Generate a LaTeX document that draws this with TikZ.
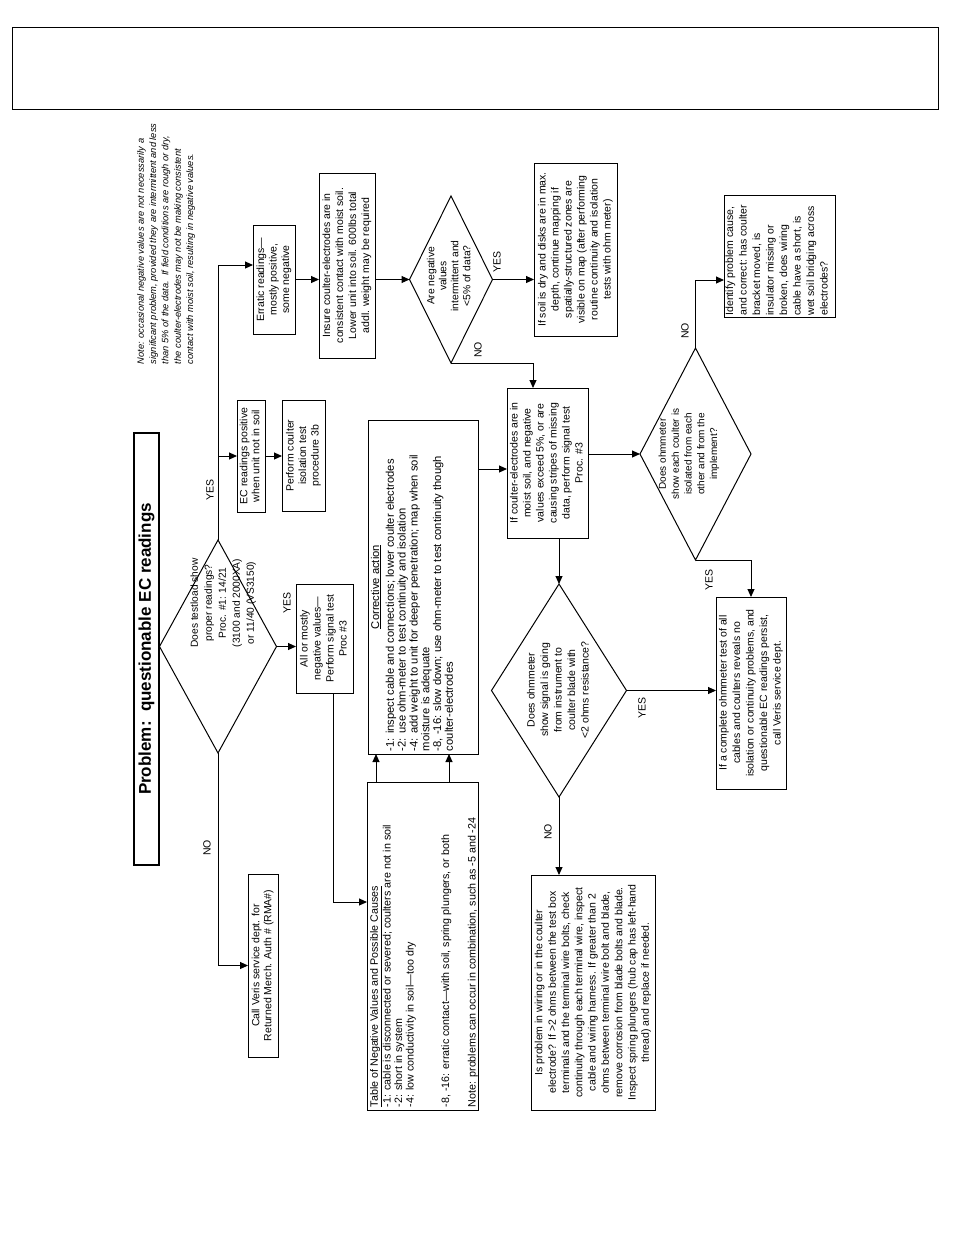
\documentclass[tikz,border=0pt]{standalone}
\usepackage{fontspec}
\setmainfont{Liberation Sans}
\usepackage{graphicx}
\usetikzlibrary{shapes.geometric,arrows.meta}
\newcommand{\vc}[1]{\rotatebox{90}{\begin{tabular}{@{}c@{}}#1\end{tabular}}}
\newcommand{\vl}[3]{\rotatebox{90}{\parbox[c][#2][t]{#1}{\raggedright #3}}}
\tikzset{
  box/.style={draw, line width=1pt, inner sep=0pt, outer sep=0pt},
  dia/.style={draw, diamond, line width=1pt, inner sep=0pt, outer sep=0pt},
  txt/.style={inner sep=0pt, outer sep=0pt},
  lbl/.style={rotate=90, inner sep=0pt, font=\fontsize{10.5}{12}\selectfont},
  arr/.style={line width=1pt, -{Triangle[length=8pt,width=7pt]}},
}
\begin{document}
\begin{tikzpicture}[x=1pt, y=-1pt, font=\fontsize{10.5}{13.3}\selectfont]
\useasboundingbox (0,0) rectangle (954,1235);
\fill[white] (0,0) rectangle (954,1235);

% frame and title
\node[box, minimum width=926pt, minimum height=82pt] (frame) at (475,68) {};
\node[box, line width=2.6pt, minimum width=25pt, minimum height=432pt] (title) at (146.5,649)
  {\rotatebox{90}{\fontsize{17}{20}\selectfont\bfseries Problem:\ \ questionable EC readings}};

% note
\node[txt, anchor=south, font=\fontsize{9.3}{12.3}\selectfont\itshape] (note) at (166,364)
  {\rotatebox{90}{\begin{tabular}{@{}l@{}}Note: occasional negative values are not necessarily a\\
   significant problem, provided they are intermittent and less\\
   than 5\% of the data.\ \ If field conditions are rough or dry,\\
   the coulter-electrodes may not be making consistent\\
   contact with moist soil, resulting in negative values.\end{tabular}}};

% diamonds
\node[dia, minimum width=117pt, minimum height=213pt] (d1) at (218,646.5) {};
\node[txt, font=\fontsize{10.2}{14}\selectfont] (d1t) at (223,603)
  {\vc{Does testload show\\ proper readings?\\ Proc. \#1: 14/21\\ (3100 and 2000XA)\\ or 11/40 (VS3150)}};
\node[dia, minimum width=83pt, minimum height=167pt] (d3) at (451,279.5) {};
\node[txt, font=\fontsize{10.3}{12}\selectfont] (d3t) at (450,276)
  {\vc{Are negative\\ values\\ intermittent and\\ {<}5\% of data?}};
\node[dia, minimum width=135pt, minimum height=213pt] (d2) at (559,690.5) {};
\node[txt, font=\fontsize{10.5}{13.5}\selectfont] (d2t) at (559,690)
  {\vc{Does ohmmeter\\ show signal is going\\ from instrument to\\ coulter blade with\\ {<}2 ohms resistance?}};
\node[dia, minimum width=111pt, minimum height=212pt] (d4) at (695.5,454) {};
\node[txt, font=\fontsize{10}{12.8}\selectfont] (d4t) at (689,454)
  {\vc{Does ohmmeter\\ show each coulter is\\ isolated from each\\ other and from the\\ implement?}};

% boxes
\node[box, minimum width=28pt, minimum height=112pt, font=\fontsize{10.5}{12}\selectfont] (ec) at (251,456)
  {\vc{EC readings positive\\ when unit not in soil}};
\node[box, minimum width=43pt, minimum height=111pt, font=\fontsize{10.5}{12.5}\selectfont] (perform) at (303.5,455.5)
  {\vc{Perform coulter\\ isolation test\\ procedure 3b}};
\node[box, minimum width=42pt, minimum height=109pt, font=\fontsize{10.5}{12.5}\selectfont] (erratic) at (274,279.5)
  {\vc{Erratic readings—\\ mostly positive,\\ some negative}};
\node[box, minimum width=56pt, minimum height=185pt, font=\fontsize{10.5}{13}\selectfont] (insure) at (347,265.5)
  {\vc{Insure coulter-electrodes are in\\ consistent contact with moist soil.\\ Lower unit into soil. 600lbs total\\ addl. weight may be required}};
\node[box, minimum width=83pt, minimum height=173pt, font=\fontsize{10.5}{13}\selectfont] (soil) at (575.5,249.5)
  {\vc{If soil is dry and disks are in max.\\ depth, continue mapping if\\ spatially-structured zones are\\ visible on map (after performing\\ routine continuity and isolation\\ tests with ohm meter)}};
\node[box, minimum width=81pt, minimum height=150pt, font=\fontsize{10.5}{13}\selectfont] (sig) at (547.5,463)
  {\vc{If coulter-electrodes are in\\ moist soil, and negative\\ values exceed 5\%, or are\\ causing stripes of missing\\ data, perform signal test\\ Proc. \#3}};
\node[box, minimum width=111pt, minimum height=122pt, font=\fontsize{10.5}{13.5}\selectfont] (ident) at (779.5,256)
  {\vl{119pt}{108pt}{Identify problem cause,\\ and correct: has coulter\\ bracket moved, is\\ insulator missing or\\ broken, does wiring\\ cable have a short, is\\ wet soil bridging across\\ electrodes?}};
\node[box, minimum width=70pt, minimum height=192pt, font=\fontsize{10.5}{13.5}\selectfont] (comp) at (751,693)
  {\vc{If a complete ohmmeter test of all\\ cables and coulters reveals no\\ isolation or continuity problems, and\\ questionable EC readings persist,\\ call Veris service dept.}};
\node[box, minimum width=124pt, minimum height=235pt, font=\fontsize{10.5}{13.3}\selectfont] (wiring) at (593,992.5)
  {\vc{Is problem in wiring or in the coulter\\ electrode? If {>}2 ohms between the test box\\ terminals and the terminal wire bolts, check\\ continuity through each terminal wire, inspect\\ cable and wiring harness. If greater than 2\\ ohms between terminal wire bolt and blade,\\ remove corrosion from blade bolts and blade.\\ Inspect spring plungers (hub cap has left-hand\\ thread) and replace if needed.}};
\node[box, minimum width=57pt, minimum height=109pt, font=\fontsize{10.5}{13}\selectfont] (allneg) at (324.5,638.5)
  {\vc{All or mostly\\ negative values—\\ Perform signal test\\ Proc \#3}};
\node[box, minimum width=30pt, minimum height=183pt, font=\fontsize{10.5}{12}\selectfont] (call) at (263,965.5)
  {\vc{Call Veris service dept. for\\ Returned Merch. Auth \# (RMA\#)}};
\node[box, minimum width=111pt, minimum height=328pt, font=\fontsize{10.7}{11.5}\selectfont] (table) at (422.5,946)
  {\vl{322pt}{105pt}{\underline{Table of Negative Values and Possible Causes}\\
   -1: cable is disconnected or severed; coulters are not in soil\\
   -2: short in system\\
   -4: low conductivity in soil—too dry\\[24pt]
   -8, -16: erratic contact—with soil, spring plungers, or both\\[15pt]
   Note: problems can occur in combination, such as -5 and -24}};
\node[box, minimum width=110pt, minimum height=334pt, font=\fontsize{11.2}{11.8}\selectfont] (corr) at (423,587)
  {\vl{328pt}{104pt}{{\centering\underline{Corrective action}\par}\vspace{3pt}%
   -1: inspect cable and connections; lower coulter electrodes\\
   -2: use ohm-meter to test continuity and isolation\\
   -4: add weight to unit for deeper penetration; map when soil\\
   moisture is adequate\\
   -8, -16: slow down; use ohm-meter to test continuity though\\
   coulter-electrodes}};

% labels
\node[lbl] (l1) at (210,490) {YES};
\node[lbl] (l2) at (287,603) {YES};
\node[lbl] (l3) at (207,848) {NO};
\node[lbl] (l4) at (497,262) {YES};
\node[lbl] (l5) at (478,350) {NO};
\node[lbl] (l6) at (642,708) {YES};
\node[lbl] (l7) at (548,832) {NO};
\node[lbl] (l8) at (685,331) {NO};
\node[lbl] (l9) at (709,580) {YES};

% connectors
\coordinate (yE) at (0,265);
\coordinate (xN) at (533,0);
\coordinate (cA) at (333,902);
\coordinate (xa) at (376,0);
\coordinate (xb) at (449,0);
\coordinate (yS) at (0,469);
\coordinate (yI) at (0,280);
\draw[arr] (d1.north) |- (erratic.west |- yE);
\draw[arr] (d1.north) |- (ec.west);
\draw[arr] (ec.east) -- (ec.east -| perform.west);
\draw[arr] (erratic.east) -- (erratic.east -| insure.west);
\draw[arr] (insure.east |- d3.west) -- (d3.west);
\draw[arr] (d3.east) -- (d3.east -| soil.west);
\draw[arr] (d3.south) -| (xN |- sig.north);
\draw[arr] (d1.east) -- (d1.east -| allneg.west);
\draw[arr] (allneg.south -| cA) -- (cA) -- (cA -| table.west);
\draw[arr] (d1.south) |- (call.west);
\draw[arr] (xa |- table.north) -- (xa |- corr.south);
\draw[arr] (xb |- table.north) -- (xb |- corr.south);
\draw[arr] (corr.east |- yS) -- (sig.west |- yS);
\draw[arr] (sig.east |- d4.west) -- (d4.west);
\draw[arr] (sig.south -| d2.north) -- (d2.north);
\draw[arr] (d2.east) -- (d2.east -| comp.west);
\draw[arr] (d2.south) -- (d2.south |- wiring.north);
\draw[arr] (d4.north) |- (ident.west |- yI);
\draw[arr] (d4.south) -| (comp.north);
\end{tikzpicture}
\end{document}
